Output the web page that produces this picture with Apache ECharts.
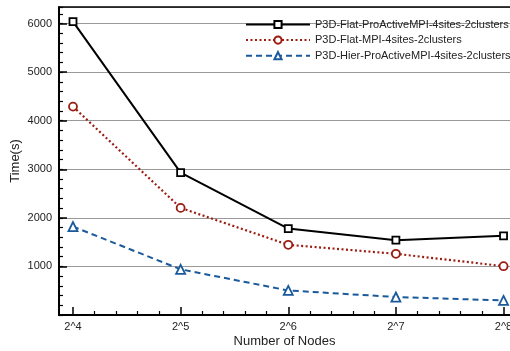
<!DOCTYPE html>
<html>
<head>
<meta charset="utf-8">
<script src="https://cdn.jsdelivr.net/npm/echarts@6/dist/echarts.min.js"></script>
<style>
  html, body { margin: 0; padding: 0; background: #fff; }
  #chart { width: 510px; height: 351px; }
</style>
</head>
<body>
<div id="chart"></div>
<script>
// Node counts as powers of two (exponents) and run times in seconds
const exponents = [4, 5, 6, 7, 8];
const tickLabels = ['2^4', '2^5', '2^6', '2^7', '2^8'];
const seriesNames = [
  'P3D-Flat-ProActiveMPI-4sites-2clusters',
  'P3D-Flat-MPI-4sites-2clusters',
  'P3D-Hier-ProActiveMPI-4sites-2clusters'
];
const flatProActive = [6040, 2930, 1780, 1540, 1630];
const flatMPI = [4290, 2205, 1445, 1260, 1005];
const hierProActive = [1820, 940, 505, 370, 300];

// the x range runs slightly past 2^8, so the right edge falls outside the canvas
const xMin = 3.87, xMax = 8.06;
const yMax = 6340;

// minor x ticks: five subdivisions between neighbouring exponents
const xMinor = [];
for (let i = 0; i < exponents.length - 1; i++) {
  for (let k = 1; k < 5; k++) xMinor.push(exponents[i] + k / 5);
}

const pairs = vals => exponents.map((e, i) => [e, vals[i]]);
const font = '"Liberation Sans", Arial, Helvetica, sans-serif';

const chart = echarts.init(document.getElementById('chart'), null, { renderer: 'canvas' });

chart.setOption({
  animation: false,
  backgroundColor: '#fff',
  grid: { left: 59, right: 0, top: 7, bottom: 36, containLabel: false, outerBoundsMode: 'none' },
  legend: {
    orient: 'vertical',
    left: 240,
    top: 14,
    itemWidth: 64,
    itemHeight: 9,
    itemGap: 4.6,
    textStyle: { fontFamily: font, fontSize: 11, color: '#222' },
    data: seriesNames
  },
  xAxis: [
    {
      type: 'value', min: xMin, max: xMax,
      name: 'Number of Nodes', nameLocation: 'middle', nameGap: 20, nameMoveOverlap: false,
      nameTextStyle: { fontFamily: font, fontSize: 13, color: '#222' },
      axisLine: { show: true, lineStyle: { color: '#000', width: 2 } },
      axisTick: { show: true, inside: true, length: 8, customValues: exponents,
                  lineStyle: { color: '#000', width: 1.5 } },
      axisLabel: { show: true, customValues: exponents, margin: 6,
                   formatter: v => tickLabels[exponents.indexOf(v)],
                   fontFamily: font, fontSize: 11, color: '#222' },
      splitLine: { show: false }
    },
    {
      type: 'value', min: xMin, max: xMax, position: 'bottom',
      axisLine: { show: false },
      axisTick: { show: true, inside: true, length: 4, customValues: xMinor,
                  lineStyle: { color: '#000', width: 1.2 } },
      axisLabel: { show: false },
      splitLine: { show: false }
    },
    {
      type: 'value', min: xMin, max: xMax, position: 'top',
      axisLine: { show: true, lineStyle: { color: '#000', width: 1.5 } },
      axisTick: { show: false }, axisLabel: { show: false }, splitLine: { show: false }
    }
  ],
  yAxis: [
    {
      type: 'value', min: 0, max: yMax, interval: 1000,
      name: 'Time(s)', nameLocation: 'middle', nameGap: 37, nameMoveOverlap: false,
      nameTextStyle: { fontFamily: font, fontSize: 13, color: '#222' },
      axisLine: { show: true, lineStyle: { color: '#000', width: 2 } },
      axisTick: { show: true, inside: true, length: 8, lineStyle: { color: '#000', width: 1.5 } },
      axisLabel: { showMinLabel: false, showMaxLabel: false, margin: 7,
                   formatter: v => String(v),
                   fontFamily: font, fontSize: 11, color: '#222' },
      splitLine: { show: true, lineStyle: { color: '#999', width: 1.2 } }
    },
    {
      type: 'value', min: 0, max: yMax, interval: 200, position: 'left',
      axisLine: { show: false },
      axisTick: { show: true, inside: true, length: 4, lineStyle: { color: '#000', width: 1.2 } },
      axisLabel: { show: false }, splitLine: { show: false }
    }
  ],
  series: [
    {
      name: seriesNames[0], type: 'line', data: pairs(flatProActive),
      symbol: 'rect', symbolSize: 7, showAllSymbol: true,
      lineStyle: { color: '#000', width: 2, type: 'solid' },
      itemStyle: { color: '#fff', borderColor: '#000', borderWidth: 1.8 },
      z: 4
    },
    {
      name: seriesNames[1], type: 'line', data: pairs(flatMPI),
      symbol: 'circle', symbolSize: 8,
      lineStyle: { color: '#9b1d12', width: 2.2, type: [2, 2.5] },
      itemStyle: { color: '#fff', borderColor: '#9b1d12', borderWidth: 1.8 },
      z: 3
    },
    {
      name: seriesNames[2], type: 'line', data: pairs(hierProActive),
      symbol: 'triangle', symbolSize: 9,
      lineStyle: { color: '#1a5a9a', width: 2, type: [6, 4] },
      itemStyle: { color: '#fff', borderColor: '#1a5a9a', borderWidth: 1.8 },
      z: 3
    }
  ]
});
</script>
</body>
</html>
